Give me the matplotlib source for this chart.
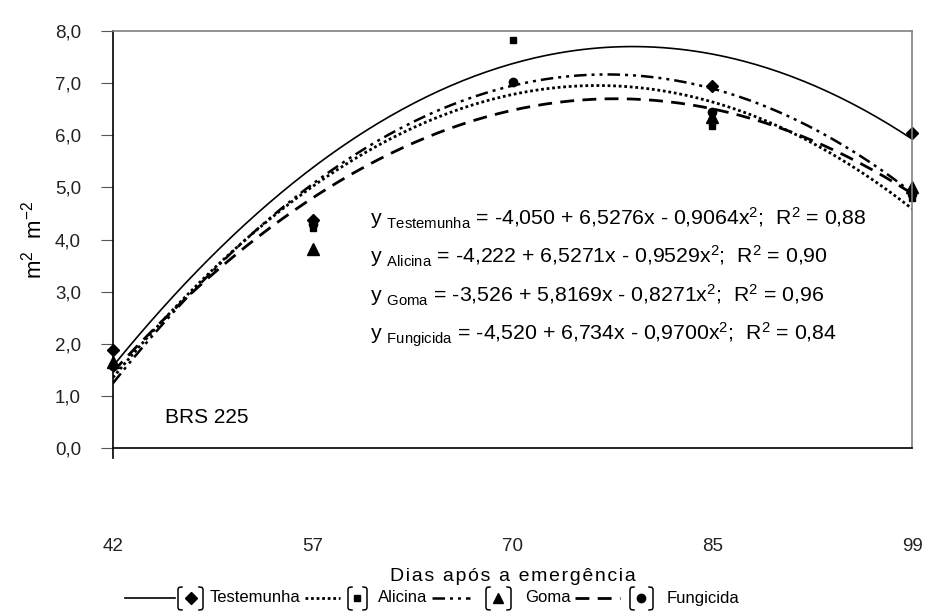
import numpy as np
import matplotlib
matplotlib.use("Agg")
import matplotlib.pyplot as plt
from matplotlib.lines import Line2D

plt.rcParams['font.family'] = ['Liberation Sans', 'DejaVu Sans']
plt.rcParams['mathtext.fontset'] = 'custom'
plt.rcParams['mathtext.rm'] = 'Liberation Sans'
plt.rcParams['mathtext.it'] = 'Liberation Sans'

# categories (days after emergence), plotted at positions 1..5
dias = ['42', '57', '70', '85', '99']

# observed values (m2 m-2), nan = not visible
testemunha = [1.88, 4.38, np.nan, 6.95, 6.05]
alicina = [1.60, 4.22, 7.83, 6.17, 4.80]
goma = [1.65, 3.82, np.nan, 6.35, 5.00]
fungicida = [1.58, 4.30, 7.03, 6.45, 4.88]

# trend coefficients (a, b, c) for y = a + b*x + c*x^2 as printed on the chart
coef_testemunha = [-4.050, 6.5276, -0.9064]
coef_alicina = [-4.222, 6.5271, -0.9529]
coef_goma = [-3.526, 5.8169, -0.8271]
coef_fungicida = [-4.520, 6.734, -0.9700]

equations = [
    r"y $_{\mathrm{Testemunha}}$ = -4,050 + 6,5276x - 0,9064x$^2$;  R$^2$ = 0,88",
    r"y $_{\mathrm{Alicina}}$ = -4,222 + 6,5271x - 0,9529x$^2$;  R$^2$ = 0,90",
    r"y $_{\mathrm{Goma}}$ = -3,526 + 5,8169x - 0,8271x$^2$;  R$^2$ = 0,96",
    r"y $_{\mathrm{Fungicida}}$ = -4,520 + 6,734x - 0,9700x$^2$;  R$^2$ = 0,84",
]

def spaced(s, sep='\u200a'):
    # the original has wide letter spacing
    return sep.join(s)

fig = plt.figure(figsize=(9.26, 6.15), dpi=100)
ax = fig.add_axes([0.122, 0.2715, 0.863, 0.678])

pos = np.arange(1, len(dias) + 1)
xf = np.linspace(1, 5, 200)

def curve(c):
    return c[0] + c[1] * xf + c[2] * xf ** 2

# styles: (linestyle, linewidth)
solid = ('-', 1.2)
dotted = ((0, (1, 1)), 2.0)
dashdot = ((0, (5, 2, 1.2, 2, 1.2, 2)), 1.8)
dashed = ((0, (5, 3)), 2.0)

ax.plot(xf, curve(coef_testemunha), color='black', ls=solid[0], lw=solid[1])
ax.plot(xf, curve(coef_alicina), color='black', ls=dotted[0], lw=dotted[1])
ax.plot(xf, curve(coef_fungicida), color='black', ls=dashdot[0], lw=dashdot[1])
ax.plot(xf, curve(coef_goma), color='black', ls=dashed[0], lw=dashed[1])

ax.plot(pos, fungicida, 'o', color='black', ms=6, clip_on=False)
ax.plot(pos, goma, '^', color='black', ms=8, clip_on=False)
ax.plot(pos, alicina, 's', color='black', ms=5, clip_on=False)
ax.plot(pos, testemunha, 'D', color='black', ms=6.5, clip_on=False)

ax.set_xlim(1, 5)
ax.set_ylim(0, 8)
ax.set_yticks(np.arange(0, 9, 1))
ax.set_yticklabels([f"{v:.1f}".replace('.', ',') for v in range(0, 9)],
                   fontsize=13.5, color='#222222')
ax.set_xticks(pos)
ax.set_xticklabels(dias, fontsize=13.5, color='#222222')
ax.tick_params(axis='x', length=0, pad=65)
ax.tick_params(axis='y', length=9, color='#555555', pad=14)

for s in ['top', 'right']:
    ax.spines[s].set_color('#808080')
for s in ['left', 'bottom']:
    ax.spines[s].set_color('black')
for s in ax.spines.values():
    s.set_linewidth(1.2)
ax.plot([0, 0], [0, -0.024], transform=ax.transAxes, color='black', lw=1.2, clip_on=False)

ax.set_ylabel(r"m$^2$  m$^{-2}$", fontsize=16, labelpad=6)
ax.set_xlabel(spaced("Dias após a emergência"), fontsize=14, labelpad=9)

ax.text(1.26, 0.58, "BRS 225", fontsize=15, va='center', ha='left')
for i, eq in enumerate(equations):
    ax.text(2.285, [4.41, 3.69, 2.94, 2.17][i], eq, fontsize=15.3, va='center', ha='left')

# custom legend, figure pixel coordinates
W, H = 926.0, 615.0
yl = 1 - 598 / H

def fx(px):
    return px / W

def fy(py):
    return 1 - py / H

def bracket(x, left=True):
    d = 4 if left else -4
    xs = [x + d, x + d * 0.25, x, x, x + d * 0.25, x + d]
    ys = [587, 587.4, 589, 608, 609.6, 610]
    fig.add_artist(Line2D([fx(v) for v in xs], [fy(v) for v in ys], color='black', lw=1.1,
                          transform=fig.transFigure))

entries = [
    (solid, 'D', 6.5, 'Testemunha', 125, 175, 178, 191, 203, 210),
    (dotted, 's', 4.5, 'Alicina', 305, 340, 348, 357, 367, 378),
    (dashdot, '^', 7.5, 'Goma', 432, 470, 486, 498, 511, 525),
    (dashed, 'o', 6, 'Fungicida', 575, 620, 630, 641, 653, 667),
]
for (st, mk, ms, name, x0, x1, bl, mx, br, tx) in entries:
    fig.add_artist(Line2D([fx(x0), fx(x1)], [yl, yl], color='black', ls=st[0], lw=st[1],
                          transform=fig.transFigure))
    bracket(bl, True)
    fig.add_artist(Line2D([fx(mx)], [yl], marker=mk, ms=ms, color='black', ls='none',
                          transform=fig.transFigure))
    bracket(br, False)
    fig.text(fx(tx), yl, name, fontsize=12, va='center', ha='left')

fig.savefig("out.png", dpi=100, facecolor='white')
